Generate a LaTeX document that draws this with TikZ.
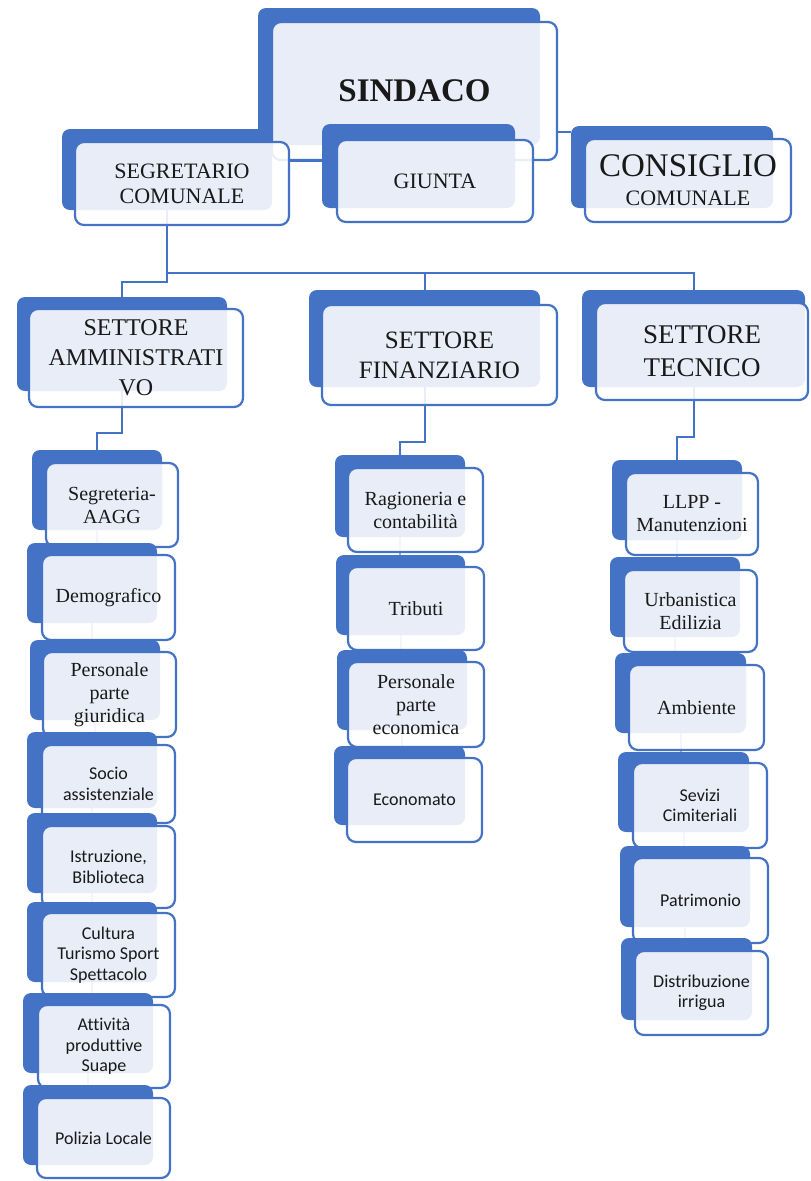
\documentclass[tikz,border=0pt]{standalone}
\usepackage{fontspec}
\setmainfont{Liberation Serif}
\newfontfamily\calib[Ligatures=NoCommon]{Carlito}
\usetikzlibrary{fit,backgrounds}
\definecolor{orgblue}{HTML}{4472C4}
% name, back corners, front corners, style, text
\newcommand{\orgbox}[7]{%
  \node[backbox, fit={(#2)(#3)}] (#1-b) {};
  \node[frontbox, fit={(#4)(#5)}] (#1) {};
  \node[boxtext, #6] (#1-t) at (#1.center) {#7};
}
\begin{document}
\begin{tikzpicture}[x=1pt, y=-1pt, line join=round, line cap=round,
  backbox/.style={fill=orgblue, rounded corners=8pt, inner sep=0pt},
  frontbox/.style={draw=orgblue, line width=2.2pt, fill=white, fill opacity=0.88, rounded corners=9pt, inner sep=0pt},
  boxtext/.style={align=center, inner sep=0pt, text=black!90},
  link/.style={draw=orgblue, line width=2pt},
  chain/.style={draw=orgblue!55, line width=2pt},
  sub/.style={font=\fontsize{20}{23}\selectfont},
  subsf/.style={font=\calib\fontsize{18}{20.5}\selectfont}]
\useasboundingbox (0,0) rectangle (811,1181);

% vertici
\orgbox{sind}{258,8}{540,145}{272,22}{557,160}{font=\fontsize{33}{38}\selectfont\bfseries}{SINDACO}
\orgbox{segr}{62,129}{272,210}{75,142}{289,225}{font=\fontsize{22}{25}\selectfont}{SEGRETARIO\\COMUNALE}
\orgbox{giun}{322,124}{515,208}{337,140}{533,222}{font=\fontsize{22}{25}\selectfont}{GIUNTA}
\orgbox{cons}{571,126}{773,208}{585,139}{791,222}{font=\fontsize{22}{29}\selectfont}{{\fontsize{33}{36}\selectfont CONSIGLIO}\\COMUNALE}

% settori
\orgbox{amm}{17,297}{227,391}{29,309}{243,407}{font=\fontsize{24}{30}\selectfont}{SETTORE\\AMMINISTRATI\\VO}
\orgbox{fin}{309,290}{540,387}{322,305}{557,405}{font=\fontsize{25}{30}\selectfont}{SETTORE\\FINANZIARIO}
\orgbox{tec}{582,290}{805,387}{596,303}{808,400}{font=\fontsize{27}{33}\selectfont}{SETTORE\\TECNICO}

% uffici amministrativi
\orgbox{a1}{32,450}{162,530}{46,463}{178,547}{sub}{Segreteria-\\AAGG}
\orgbox{a2}{27,543}{157,623}{42,555}{175,640}{sub}{Demografico}
\orgbox{a3}{30,640}{160,720}{43,652}{176,737}{sub}{Personale\\parte\\giuridica}
\orgbox{a4}{27,732}{157,808}{42,745}{175,823}{subsf}{Socio\\assistenziale}
\orgbox{a5}{27,813}{157,893}{42,826}{175,908}{subsf}{Istruzione,\\Biblioteca}
\orgbox{a6}{27,902}{157,982}{42,913}{175,997}{subsf}{Cultura\\Turismo Sport\\Spettacolo}
\orgbox{a7}{23,993}{153,1073}{38,1005}{170,1088}{subsf}{Attività\\produttive\\Suape}
\orgbox{a8}{23,1085}{153,1165}{37,1098}{170,1178}{subsf}{Polizia Locale}

% uffici finanziari
\orgbox{f1}{335,455}{465,537}{348,468}{483,552}{sub}{Ragioneria e\\contabilità}
\orgbox{f2}{336,555}{465,635}{348,567}{484,650}{sub}{Tributi}
\orgbox{f3}{337,650}{467,730}{348,662}{484,747}{sub}{Personale\\parte\\economica}
\orgbox{f4}{334,746}{465,825}{347,758}{482,842}{subsf}{Economato}

% uffici tecnici
\orgbox{t1}{612,460}{742,540}{626,473}{758,555}{sub}{LLPP -\\Manutenzioni}
\orgbox{t2}{610,557}{740,637}{624,570}{757,652}{sub}{Urbanistica\\Edilizia}
\orgbox{t3}{615,653}{746,733}{629,665}{764,750}{sub}{Ambiente}
\orgbox{t4}{618,752}{749,832}{633,763}{767,848}{subsf}{Sevizi\\Cimiteriali}
\orgbox{t5}{620,846}{750,927}{633,858}{768,943}{subsf}{Patrimonio}
\orgbox{t6}{621,938}{752,1020}{635,951}{768,1035}{subsf}{Distribuzione\\irrigua}

% collegamenti
\begin{scope}[on background layer]
  \coordinate (sj) at ([yshift=-41pt]sind.east);
  \draw[link] (sj) -- (sj -| cons-b.west);
  \coordinate (sg) at ([yshift=23pt]segr.east);
  \draw[link] (sg) -- (sg -| giun-b.west);
  \draw[link] (segr-b.south) -- ++(0,72) -| (amm-b.north);
  \coordinate (bus) at ([yshift=-63pt]segr-b.south);
  \draw[link] (bus) -| (fin-b.north);
  \draw[link] (bus) -| (tec-b.north);
  \draw[link] (amm-b.south) -- ++(0,42) -| (a1-b.north);
  \draw[link] (fin-b.south) -- ++(0,55) -| (f1-b.north);
  \draw[link] (tec-b.south) -- ++(0,50) -| (t1-b.north);
  \foreach \a/\b in {a1/a2,a2/a3,a3/a4,a4/a5,a5/a6,a6/a7,a7/a8,f1/f2,f2/f3,f3/f4,t1/t2,t2/t3,t3/t4,t4/t5,t5/t6}
    \draw[chain] (\a-b.south) -- (\a-b.south |- \b-b.north);
\end{scope}
\end{tikzpicture}
\end{document}
